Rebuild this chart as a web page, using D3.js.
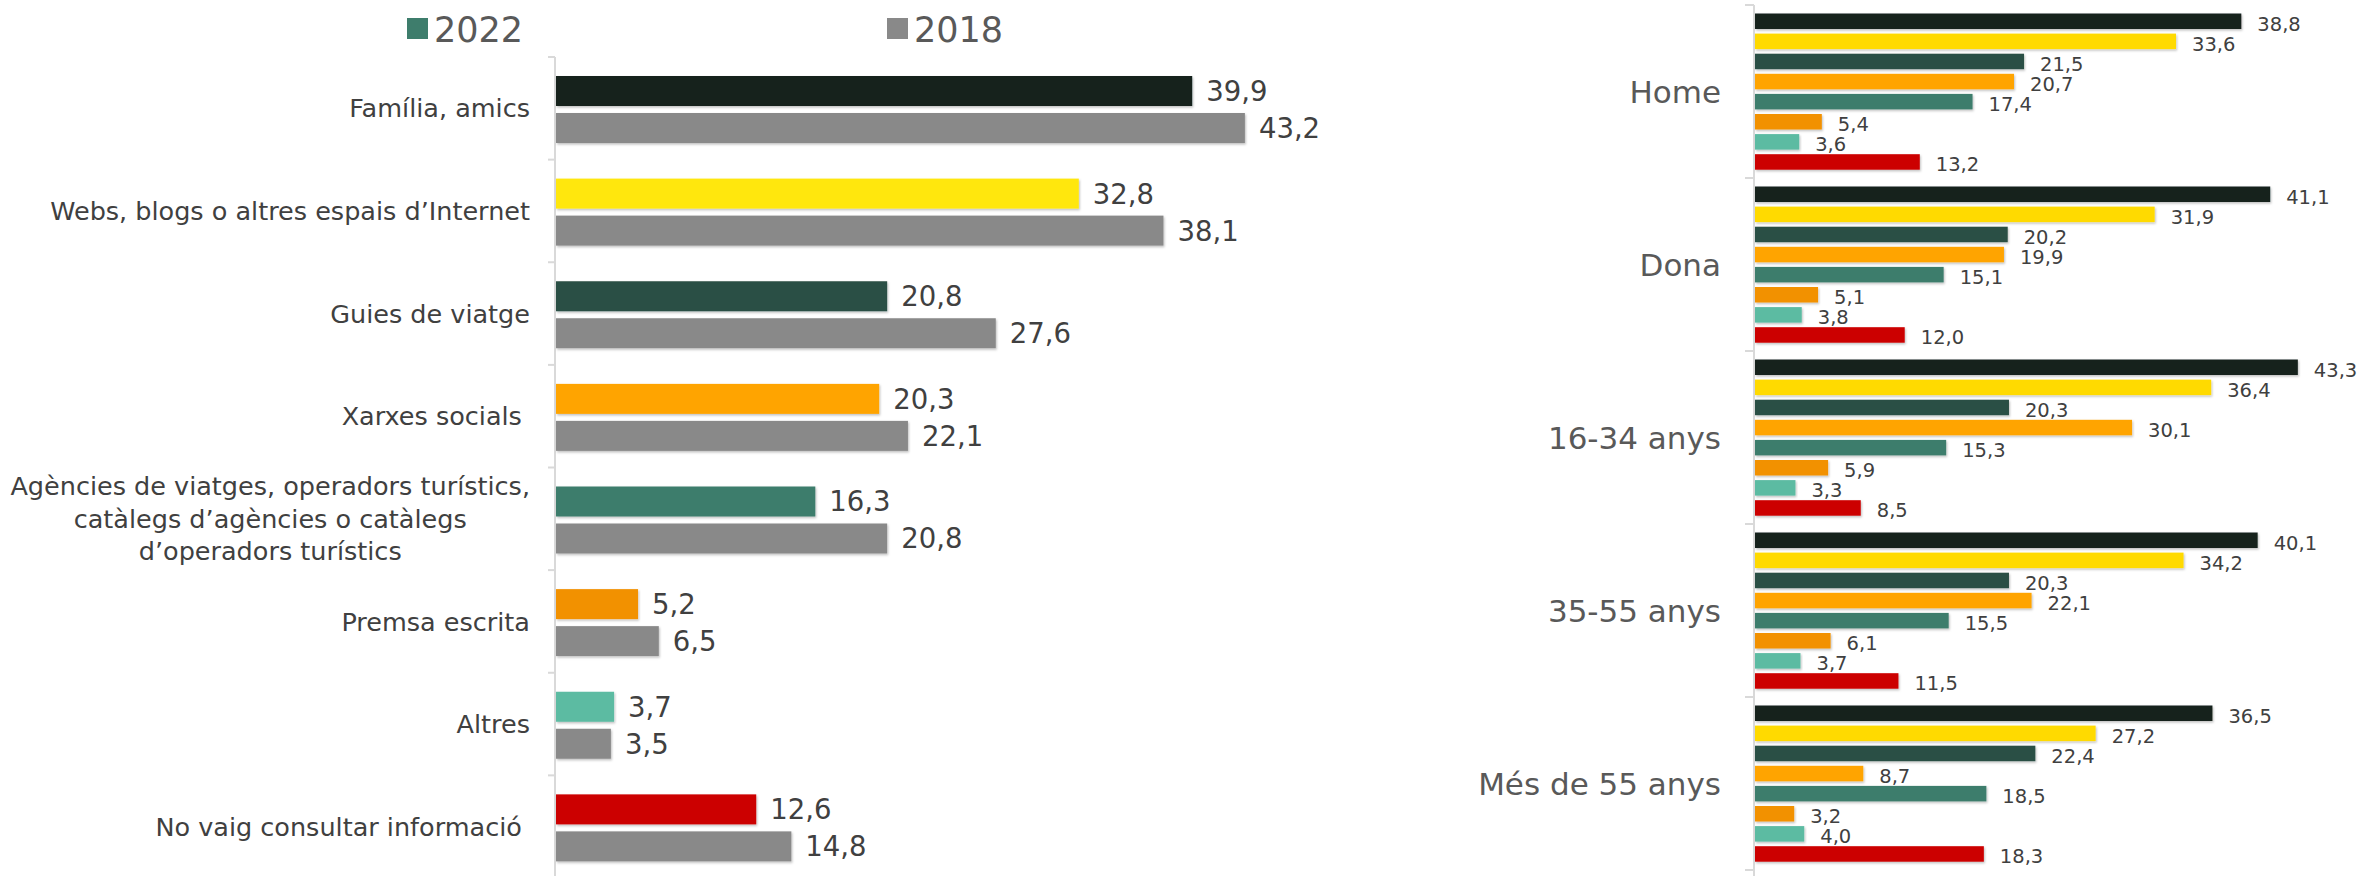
<!DOCTYPE html>
<html>
<head>
<meta charset="utf-8">
<script src="https://cdn.jsdelivr.net/npm/d3@7"></script>
<style>
  html, body { margin: 0; padding: 0; background: #ffffff; }
  svg { display: block; }
  text { font-family: "DejaVu Sans", "Noto Sans", sans-serif; white-space: pre; }
</style>
</head>
<body>
<svg id="chart" width="2379" height="876"></svg>
<script>
// Information sources consulted, 2022 vs 2018
const sources = [
  "Família, amics",
  "Webs, blogs o altres espais d’Internet",
  "Guies de viatge",
  "Xarxes socials ",
  "Agències de viatges, operadors turístics,|catàlegs d’agències o catàlegs|d’operadors turístics",
  "Premsa escrita",
  "Altres",
  "No vaig consultar informació "
];
const values2022 = [39.9, 32.8, 20.8, 20.3, 16.3, 5.2, 3.7, 12.6];
const values2018 = [43.2, 38.1, 27.6, 22.1, 20.8, 6.5, 3.5, 14.8];
const years = ["2022", "2018"];

// 2022 breakdown by sex and age group (same source order as above)
const groups = ["Home", "Dona", "16-34 anys", "35-55 anys", "Més de 55 anys"];
const groupValues = [
  [38.8, 33.6, 21.5, 20.7, 17.4, 5.4, 3.6, 13.2],
  [41.1, 31.9, 20.2, 19.9, 15.1, 5.1, 3.8, 12.0],
  [43.3, 36.4, 20.3, 30.1, 15.3, 5.9, 3.3, 8.5],
  [40.1, 34.2, 20.3, 22.1, 15.5, 6.1, 3.7, 11.5],
  [36.5, 27.2, 22.4, 8.7, 18.5, 3.2, 4.0, 18.3]
];

const sourceColors = ["#17241e", "#ffe70c", "#2b4f44", "#ffa405", "#3e7d6c", "#f29104", "#5bbba2", "#cc0505"];
const sourceColorsRight = ["#17241e", "#ffda04", "#2b4f44", "#ffa405", "#3e7d6c", "#f29104", "#5bbba2", "#cc0505"];
const color2018 = "#898989";
const legendColor2022 = "#3e7d6c";

const fmt = v => d3.format(".1f")(v).replace(".", ",");
const svg = d3.select("#chart");

const defs = svg.append("defs");
const shadow = defs.append("filter").attr("id", "shadow")
  .attr("x", "-5%").attr("y", "-20%").attr("width", "110%").attr("height", "150%");
shadow.append("feDropShadow").attr("dx", 1).attr("dy", 1.5)
  .attr("stdDeviation", 1).attr("flood-color", "#000").attr("flood-opacity", 0.25);

// ---------- Left chart ----------
const L = { axisX: 555, top: 57, bottom: 878 };
const xL = d3.scaleLinear().domain([0, 1]).range([L.axisX, L.axisX + 15.97]);
const yL = d3.scaleBand().domain(d3.range(sources.length)).range([L.top, L.bottom]);
const step = yL.bandwidth();
const barH = 30;
const barOff = [19, 56];

const left = svg.append("g");

left.append("line")
  .attr("x1", L.axisX).attr("x2", L.axisX)
  .attr("y1", L.top).attr("y2", 876)
  .attr("stroke", "#d9d9d9").attr("stroke-width", 2);
left.selectAll("line.tick").data(d3.range(sources.length + 1)).join("line")
  .attr("class", "tick")
  .attr("x1", L.axisX - 7).attr("x2", L.axisX)
  .attr("y1", i => L.top + i * step).attr("y2", i => L.top + i * step)
  .attr("stroke", "#d9d9d9").attr("stroke-width", 2);

const series = [values2022, values2018];
series.forEach((vals, s) => {
  left.append("g").selectAll("rect").data(vals).join("rect")
    .attr("x", L.axisX + 1)
    .attr("y", (d, i) => yL(i) + barOff[s])
    .attr("width", d => xL(d) - L.axisX - 1)
    .attr("height", barH)
    .attr("fill", (d, i) => s === 0 ? sourceColors[i] : color2018)
    .attr("filter", "url(#shadow)");
  left.append("g").selectAll("text").data(vals).join("text")
    .attr("x", d => xL(d) + 14)
    .attr("y", (d, i) => yL(i) + barOff[s] + barH / 2)
    .attr("dy", "0.36em")
    .attr("font-size", 27.5)
    .attr("fill", "#404040")
    .text(d => fmt(d));
});

// category labels (multi-line labels are centred on their longest line)
sources.forEach((label, i) => {
  const lines = label.split("|");
  const cy = yL(i) + step / 2;
  const lh = 32.5;
  const t = left.append("text")
    .attr("font-size", 25.5)
    .attr("fill", "#404040");
  if (lines.length === 1) {
    t.attr("x", 530).attr("y", cy).attr("dy", "0.36em")
      .attr("text-anchor", "end").text(label);
  } else {
    t.attr("text-anchor", "middle");
    lines.forEach((ln, k) => {
      t.append("tspan").attr("x", 0)
        .attr("y", cy + (k - (lines.length - 1) / 2) * lh)
        .attr("dy", "0.36em").text(ln);
    });
    const w = t.node().getBBox().width;
    t.selectAll("tspan").attr("x", 530 - w / 2);
  }
});

// legend
const legendItems = [
  { label: years[0], color: legendColor2022, x: 407 },
  { label: years[1], color: color2018, x: 887 }
];
const lg = left.append("g").selectAll("g").data(legendItems).join("g");
lg.append("rect").attr("x", d => d.x).attr("y", 18).attr("width", 21).attr("height", 21)
  .attr("fill", d => d.color);
lg.append("text").attr("x", d => d.x + 27).attr("y", 42)
  .attr("font-size", 35).attr("fill", "#595959").text(d => d.label);

// ---------- Right chart ----------
const R = { axisX: 1754, top: 5, bottom: 870 };
const xR = d3.scaleLinear().domain([0, 1]).range([R.axisX, R.axisX + 12.56]);
const yR = d3.scaleBand().domain(d3.range(groups.length)).range([R.top, R.bottom]);
const stepR = yR.bandwidth();
const subStep = 20.1, subH = 15.5, subOff = 8.5;

const right = svg.append("g");
right.append("line")
  .attr("x1", R.axisX).attr("x2", R.axisX)
  .attr("y1", R.top).attr("y2", 876)
  .attr("stroke", "#d9d9d9").attr("stroke-width", 2);
right.selectAll("line.tick").data(d3.range(groups.length + 1)).join("line")
  .attr("class", "tick")
  .attr("x1", R.axisX - 9).attr("x2", R.axisX)
  .attr("y1", i => R.top + i * stepR).attr("y2", i => R.top + i * stepR)
  .attr("stroke", "#d9d9d9").attr("stroke-width", 2);

groups.forEach((g, gi) => {
  const gy = yR(gi);
  const gg = right.append("g");
  gg.selectAll("rect").data(groupValues[gi]).join("rect")
    .attr("x", R.axisX + 1)
    .attr("y", (d, i) => gy + subOff + i * subStep)
    .attr("width", d => xR(d) - R.axisX - 1)
    .attr("height", subH)
    .attr("fill", (d, i) => sourceColorsRight[i])
    .attr("filter", "url(#shadow)");
  gg.selectAll("text").data(groupValues[gi]).join("text")
    .attr("x", d => xR(d) + 16)
    .attr("y", (d, i) => gy + subOff + i * subStep + subH / 2 + 2.5)
    .attr("dy", "0.36em")
    .attr("font-size", 19.5)
    .attr("fill", "#404040")
    .text(d => fmt(d));
  right.append("text")
    .attr("x", 1721).attr("y", gy + stepR / 2).attr("dy", "0.36em")
    .attr("text-anchor", "end")
    .attr("font-size", 31).attr("fill", "#595959")
    .text(g);
});
</script>
</body>
</html>
